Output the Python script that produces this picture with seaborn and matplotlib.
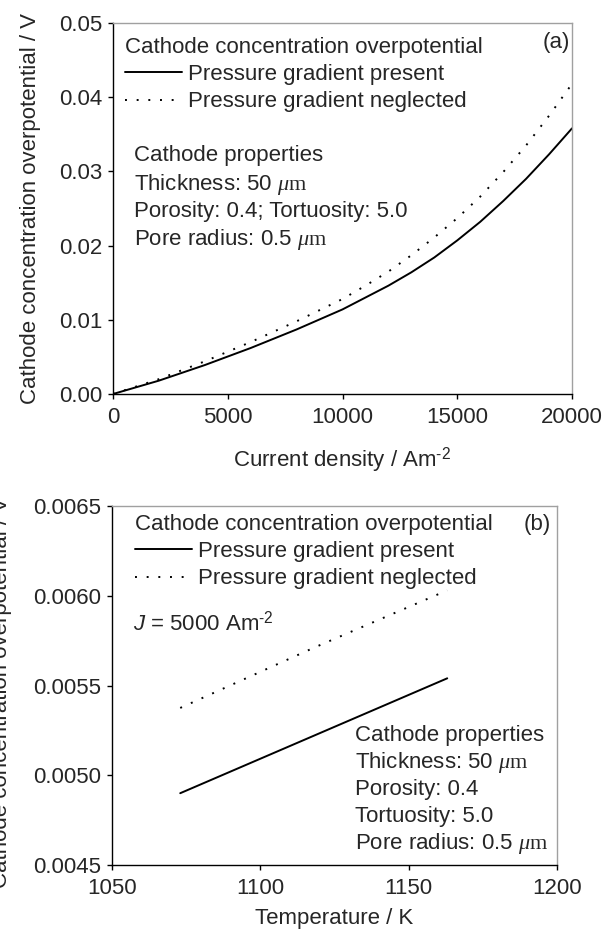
import numpy as np
import pandas as pd
import matplotlib
matplotlib.use("Agg")
import matplotlib.pyplot as plt
import seaborn as sns

# ---- data ----
current_density = [0, 2000, 4000, 6000, 8000, 10000, 11000, 12000, 13000, 14000, 15000,
                   16000, 17000, 18000, 19000, 20000]
eta_present_a = [0, 0.0018, 0.0039, 0.0062, 0.0087, 0.0114, 0.0130, 0.0146, 0.0164, 0.0184, 0.0207,
                 0.0232, 0.0260, 0.0290, 0.0323, 0.0358]
eta_neglected_a = [0, 0.0020, 0.0044, 0.0070, 0.0098, 0.0128, 0.0146, 0.0165, 0.0187, 0.0211, 0.0237,
                   0.0266, 0.0299, 0.0335, 0.0375, 0.0418]

temperature = [1073, 1118, 1163]
eta_present_b = [0.00490, 0.00522, 0.00554]
eta_neglected_b = [0.005375, 0.00571, 0.00603]

xticks_a = [0, 5000, 10000, 15000, 20000]
yticks_a = [0.00, 0.01, 0.02, 0.03, 0.04, 0.05]
xticks_b = [1050, 1100, 1150, 1200]
yticks_b = [0.0045, 0.0050, 0.0055, 0.0060, 0.0065]

label_present = "Pressure gradient present"
label_neglected = "Pressure gradient neglected"
legend_title = "Cathode concentration overpotential"

sns.set_theme(style="ticks")
plt.rcParams["font.family"] = ["Liberation Sans", "DejaVu Sans"]
plt.rcParams["mathtext.fontset"] = "custom"
plt.rcParams["mathtext.rm"] = "Liberation Serif"
plt.rcParams["mathtext.it"] = "Liberation Serif:italic"
plt.rcParams["mathtext.sf"] = "Liberation Sans"
plt.rcParams["mathtext.bf"] = "Liberation Sans:italic"

FS = 16
dotted = (0, (1, 5))
LW = 1.4

fig = plt.figure(figsize=(6.12, 9.33), dpi=100)
ax1 = fig.add_axes([113 / 612, 1 - 394 / 933, 459 / 612, 371 / 933])
ax2 = fig.add_axes([112 / 612, 1 - 865 / 933, 445 / 612, 359 / 933])

dfa = pd.DataFrame({"J": current_density, "present": eta_present_a, "neglected": eta_neglected_a})
dfb = pd.DataFrame({"T": temperature, "present": eta_present_b, "neglected": eta_neglected_b})

sns.lineplot(data=dfa, x="J", y="present", ax=ax1, color="black", lw=LW, label=label_present)
sns.lineplot(data=dfa, x="J", y="neglected", ax=ax1, color="black", lw=LW, linestyle=dotted, label=label_neglected)
sns.lineplot(data=dfb, x="T", y="present", ax=ax2, color="black", lw=LW, label=label_present)
sns.lineplot(data=dfb, x="T", y="neglected", ax=ax2, color="black", lw=LW, linestyle=dotted, label=label_neglected)

for ax in (ax1, ax2):
    ax.set_facecolor("white")
    for s in ("left", "bottom"):
        ax.spines[s].set_color("black")
        ax.spines[s].set_linewidth(1.0)
    for s in ("top", "right"):
        ax.spines[s].set_color("#a0a0a0")
        ax.spines[s].set_linewidth(1.0)
    ax.tick_params(axis="both", which="major", direction="out", length=3.6, width=1.0,
                   labelsize=FS, color="black", top=False, right=False)
    ax.tick_params(axis="x", pad=5.5)
    ax.tick_params(axis="y", pad=4.0)

ax1.set_xlim(0, 20000)
ax1.set_ylim(0, 0.05)
ax1.set_xticks(xticks_a)
ax1.set_yticks(yticks_a)
ax1.set_xticklabels([str(v) for v in xticks_a])
ax1.set_yticklabels([f"{v:.2f}" for v in yticks_a])

ax2.set_xlim(1050, 1200)
ax2.set_ylim(0.0045, 0.0065)
ax2.set_xticks(xticks_b)
ax2.set_yticks(yticks_b)
ax2.set_xticklabels([str(v) for v in xticks_b])
ax2.set_yticklabels([f"{v:.4f}" for v in yticks_b])

sup = r"Am$^{\mathsf{‐2}}$"
ylabel = "Cathode concentration overpotential / V"
ax1.set_xlabel("Current density / " + sup, fontsize=FS)
ax1.set_ylabel(ylabel, fontsize=FS)
ax1.xaxis.set_label_coords(0.5, (394 - 445) / 371)
ax1.yaxis.set_label_coords((41 - 113) / 459, 0.5)

ax2.set_xlabel("Temperature / K", fontsize=FS)
ax2.set_ylabel(ylabel, fontsize=FS)
ax2.xaxis.set_label_coords(0.5, (865 - 908) / 359)
ax2.yaxis.set_label_coords((12 - 112) / 445, (865 - 692) / 359)

leg_kw = dict(frameon=False, fontsize=FS, title_fontsize=FS, alignment="left", loc="upper left",
              borderpad=0, borderaxespad=0, handlelength=2.55, handletextpad=0.3,
              labelspacing=0.28)
ax1.legend(title=legend_title, bbox_to_anchor=((125 - 113) / 459, (394 - 37) / 371), **leg_kw)
ax2.legend(title=legend_title, bbox_to_anchor=((135 - 112) / 445, (865 - 514) / 359), **leg_kw)

# panel labels
OFF = 8
ax1.text((556 - 113) / 459, (394 - (40 + OFF)) / 371, "(a)", transform=ax1.transAxes, ha="center", va="baseline", fontsize=FS)
ax2.text((537 - 112) / 445, (865 - (522 + OFF)) / 359, "(b)", transform=ax2.transAxes, ha="center", va="baseline", fontsize=FS)

# property annotations
props_a = ["Cathode properties", r"Thickness: 50 $\mu\mathrm{m}$", "Porosity: 0.4; Tortuosity: 5.0",
           r"Pore radius: 0.5 $\mu\mathrm{m}$"]
centers_a = [153, 182, 209, 237]
for t, c in zip(props_a, centers_a):
    ax1.text((134.5 - 113) / 459, (394 - (c + OFF)) / 371, t, transform=ax1.transAxes, ha="left", va="baseline", fontsize=FS)

props_b = ["Cathode properties", r"Thickness: 50 $\mu\mathrm{m}$", "Porosity: 0.4", "Tortuosity: 5.0",
           r"Pore radius: 0.5 $\mu\mathrm{m}$"]
centers_b = [733, 760, 787, 814, 841]
for t, c in zip(props_b, centers_b):
    ax2.text((355 - 112) / 445, (865 - (c + OFF)) / 359, t, transform=ax2.transAxes, ha="left", va="baseline", fontsize=FS)

ax2.text((133 - 112) / 445, (865 - (623 + OFF)) / 359, r"$\mathbf{J}$ = 5000 " + sup,
         transform=ax2.transAxes, ha="left", va="baseline", fontsize=FS)

fig.savefig("out.png", dpi=100, facecolor="white")
